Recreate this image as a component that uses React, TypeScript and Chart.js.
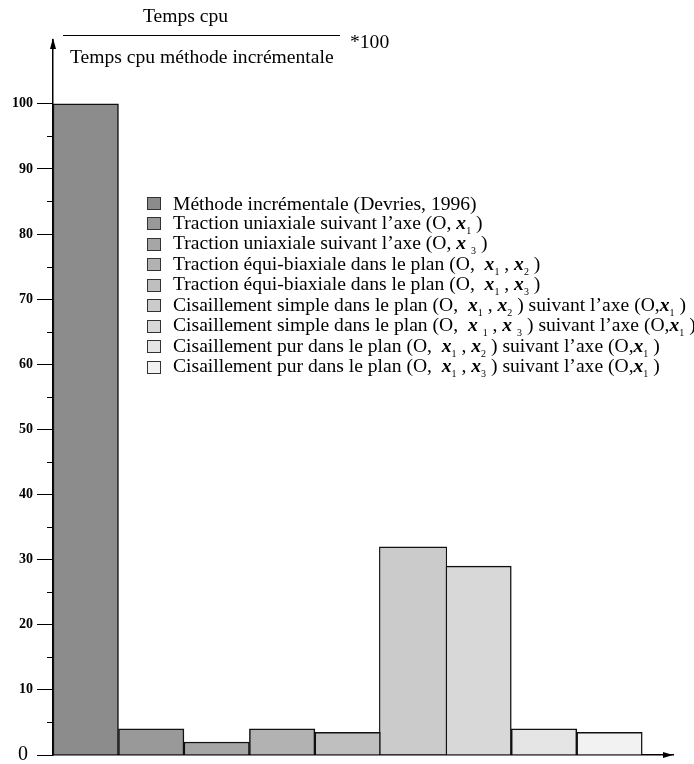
import React, { useEffect, useRef } from "react";
import { Chart, registerables } from "chart.js";
Chart.register(...registerables);

// ---- data ----
const legendLabels = [
  "Méthode incrémentale (Devries, 1996)",
  "Traction uniaxiale suivant l’axe (O, {x1} )",
  "Traction uniaxiale suivant l’axe (O, {x 3} )",
  "Traction équi-biaxiale dans le plan (O,  {x1} , {x2} )",
  "Traction équi-biaxiale dans le plan (O,  {x1} , {x3} )",
  "Cisaillement simple dans le plan (O,  {x1} , {x2} ) suivant l’axe (O,{x1} )",
  "Cisaillement simple dans le plan (O,  {x 1} , {x 3} ) suivant l’axe (O,{x1} )",
  "Cisaillement pur dans le plan (O,  {x1} , {x2} ) suivant l’axe (O,{x1} )",
  "Cisaillement pur dans le plan (O,  {x1} , {x3} ) suivant l’axe (O,{x1} )",
];
const values = [100, 4, 2, 4, 3.5, 32, 29, 4, 3.5];
const barColors = [
  "#8c8c8c", "#999999", "#a6a6a6", "#b2b2b2", "#bfbfbf",
  "#cbcbcb", "#d8d8d8", "#e5e5e5", "#f2f2f2",
];
const majorTicks = [0, 10, 20, 30, 40, 50, 60, 70, 80, 90, 100];
const minorTicks = [5, 15, 25, 35, 45, 55, 65, 75, 85, 95];
const titleNumerator = "Temps cpu";
const titleDenominator = "Temps cpu méthode incrémentale";
const titleFactor = "*100";

const SERIF = '"Liberation Serif", "Times New Roman", serif';

function plainLabel(s: string) {
  return s.replace(/\{x ?(\d)\}/g, "x$1");
}

function renderLabel(s: string) {
  const parts: any[] = [];
  const re = /\{x( ?)(\d)\}/g;
  let last = 0;
  let m: RegExpExecArray | null;
  let k = 0;
  while ((m = re.exec(s))) {
    if (m.index > last) parts.push(<span key={k++} style={{ whiteSpace: "pre" }}>{s.slice(last, m.index)}</span>);
    parts.push(
      <span key={k++} style={{ whiteSpace: "pre" }}>
        <b><i>x</i></b>
        {m[1] ? " " : ""}
        <span style={{ fontSize: 10, position: "relative", top: 5 }}>{m[2]}</span>
      </span>
    );
    last = m.index + m[0].length;
  }
  if (last < s.length) parts.push(<span key={k++} style={{ whiteSpace: "pre" }}>{s.slice(last)}</span>);
  return parts;
}

const axisDecor = {
  id: "axisDecor",
  afterDraw(chart: any) {
    const { ctx, chartArea } = chart;
    const y = chart.scales.y;
    ctx.save();
    ctx.strokeStyle = "#000";
    ctx.lineWidth = 1;
    minorTicks.forEach((v) => {
      const py = Math.round(y.getPixelForValue(v)) + 0.5;
      ctx.beginPath();
      ctx.moveTo(chartArea.left - 6, py);
      ctx.lineTo(chartArea.left, py);
      ctx.stroke();
    });
    ctx.fillStyle = "#000";
    const ax = chartArea.left;
    const top = chartArea.top;
    ctx.beginPath();
    ctx.moveTo(ax, top - 2);
    ctx.lineTo(ax - 3, top + 9);
    ctx.lineTo(ax + 3, top + 9);
    ctx.closePath();
    ctx.fill();
    const bx = chartArea.right;
    const by = chartArea.bottom;
    ctx.beginPath();
    ctx.moveTo(bx, by);
    ctx.lineTo(bx - 10, by - 3);
    ctx.lineTo(bx - 10, by + 3);
    ctx.closePath();
    ctx.fill();
    ctx.restore();
  },
};

export default function App() {
  const ref = useRef<HTMLCanvasElement | null>(null);

  useEffect(() => {
    document.body.style.margin = "0";
    Chart.defaults.font.family = SERIF;
    const chart = new Chart(ref.current as HTMLCanvasElement, {
      type: "bar",
      data: {
        datasets: legendLabels.map((lab, i) => ({
          label: plainLabel(lab),
          data: [{ x: i + 0.5, y: values[i] }],
          backgroundColor: barColors[i],
          borderColor: "#111",
          borderWidth: 1.5,
          grouped: false,
          barPercentage: i === 5 ? 1.04 : 1,
          categoryPercentage: 1,
        })) as any,
      },
      options: {
        responsive: false,
        animation: false,
        events: [],
        layout: { padding: { top: 40, right: 21, left: 0, bottom: 0 } },
        plugins: { legend: { display: false }, tooltip: { enabled: false } },
        scales: {
          x: {
            type: "linear",
            min: 0,
            max: 9.47,
            offset: false,
            z: 1,
            ticks: { display: false, stepSize: 1 },
            grid: { display: false, offset: false },
            border: { display: true, color: "#000", width: 1.5 },
            afterFit: (s: any) => { s.height = 9; s.paddingLeft = 0; s.paddingRight = 0; },
          },
          y: {
            type: "linear",
            min: 0,
            max: 109.8,
            z: 1,
            afterBuildTicks: (s: any) => { s.ticks = majorTicks.map((v) => ({ value: v })); },
            ticks: {
              padding: 4,
              color: "#000",
              font: (c: any) =>
                c.tick && c.tick.value === 0
                  ? { size: 20, weight: "normal", family: SERIF }
                  : { size: 14, weight: "bold", family: SERIF },
              callback: (v: any) => (v === 0 ? "0 " : String(v)),
            },
            grid: { display: true, drawOnChartArea: false, drawTicks: true, tickLength: 16, color: "#000", lineWidth: 1 },
            border: { display: true, color: "#000", width: 1.5 },
            afterFit: (s: any) => { s.width = 53; s.paddingTop = 0; s.paddingBottom = 0; },
          },
        } as any,
      },
      plugins: [axisDecor],
    });
    return () => chart.destroy();
  }, []);

  const fs = 19.6;
  return (
    <div style={{ position: "relative", width: 694, height: 764, fontFamily: SERIF, color: "#000" }}>
      <canvas ref={ref} width={694} height={764} style={{ display: "block", width: 694, height: 764 }} />
      <div style={{ position: "absolute", left: 143, top: 6, fontSize: fs, lineHeight: "19px", whiteSpace: "nowrap" }}>{titleNumerator}</div>
      <div style={{ position: "absolute", left: 63, top: 35, width: 277, height: 0, borderTop: "1px solid #000" }} />
      <div style={{ position: "absolute", left: 70, top: 47, fontSize: fs, lineHeight: "19px", whiteSpace: "nowrap" }}>{titleDenominator}</div>
      <div style={{ position: "absolute", left: 350, top: 32, fontSize: fs, lineHeight: "19px", whiteSpace: "nowrap" }}>{titleFactor}</div>
      <div style={{ position: "absolute", left: 147, top: 193, fontSize: fs }}>
        {legendLabels.map((lab, i) => (
          <div key={i} style={{ display: "flex", alignItems: "center", height: 20.5, whiteSpace: "nowrap", lineHeight: "19px" }}>
            <span style={{ flex: "none", width: 12, height: 11, border: "1px solid #333", background: barColors[i], marginRight: 12 }} />
            <span>{renderLabel(lab)}</span>
          </div>
        ))}
      </div>
    </div>
  );
}
